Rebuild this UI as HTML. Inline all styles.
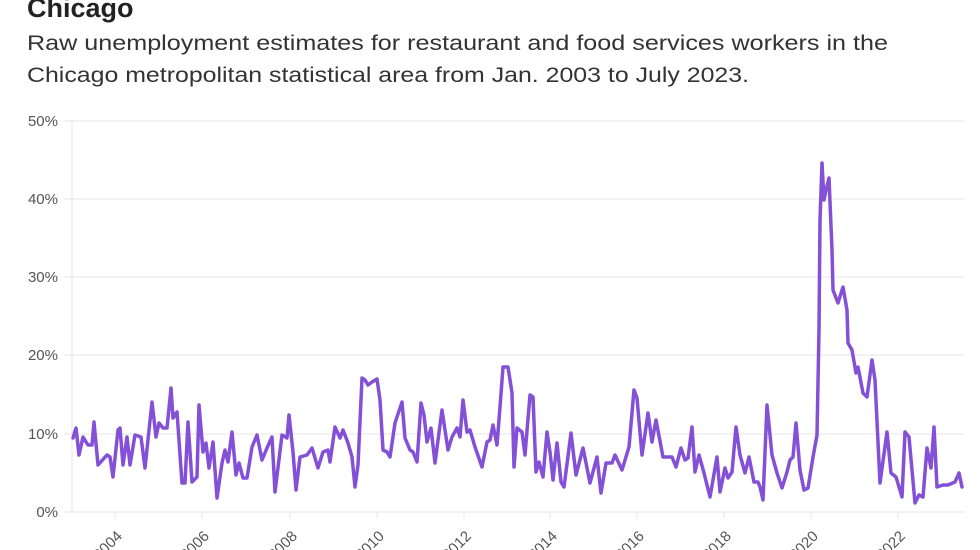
<!DOCTYPE html>
<html><head><meta charset="utf-8"><style>
html,body{margin:0;padding:0;background:#fff;}
svg{display:block;font-family:"Liberation Sans",sans-serif;}
</style></head><body>
<svg width="980" height="550" viewBox="0 0 980 550">
<text x="27" y="17" font-size="27" font-weight="bold" fill="#222">Chicago</text>
<text x="27" y="50" font-size="21" fill="#333" textLength="861" lengthAdjust="spacingAndGlyphs">Raw unemployment estimates for restaurant and food services workers in the</text>
<text x="27" y="82" font-size="21" fill="#333" textLength="722" lengthAdjust="spacingAndGlyphs">Chicago metropolitan statistical area from Jan. 2003 to July 2023.</text>
<g stroke="#e6e6e6" stroke-width="1">
<line x1="64" x2="964" y1="121" y2="121"/><line x1="64" x2="964" y1="199" y2="199"/><line x1="64" x2="964" y1="277" y2="277"/><line x1="64" x2="964" y1="355" y2="355"/><line x1="64" x2="964" y1="434" y2="434"/><line x1="64" x2="964" y1="512" y2="512"/>
<line x1="72" x2="72" y1="121" y2="512"/>
<line x1="115" x2="115" y1="512" y2="518"/><line x1="202" x2="202" y1="512" y2="518"/><line x1="290" x2="290" y1="512" y2="518"/><line x1="377" x2="377" y1="512" y2="518"/><line x1="464" x2="464" y1="512" y2="518"/><line x1="550" x2="550" y1="512" y2="518"/><line x1="637" x2="637" y1="512" y2="518"/><line x1="724" x2="724" y1="512" y2="518"/><line x1="811" x2="811" y1="512" y2="518"/><line x1="898" x2="898" y1="512" y2="518"/>
</g>
<g font-size="15" fill="#555" text-anchor="end">
<text x="58" y="126">50%</text><text x="58" y="204">40%</text><text x="58" y="282">30%</text><text x="58" y="360">20%</text><text x="58" y="439">10%</text><text x="58" y="517">0%</text>
</g>
<g font-size="15" fill="#555" text-anchor="end">
<text transform="translate(123,537) rotate(-45)">2004</text>
<text transform="translate(210,537) rotate(-45)">2006</text>
<text transform="translate(298,537) rotate(-45)">2008</text>
<text transform="translate(385,537) rotate(-45)">2010</text>
<text transform="translate(472,537) rotate(-45)">2012</text>
<text transform="translate(558,537) rotate(-45)">2014</text>
<text transform="translate(645,537) rotate(-45)">2016</text>
<text transform="translate(732,537) rotate(-45)">2018</text>
<text transform="translate(819,537) rotate(-45)">2020</text>
<text transform="translate(906,537) rotate(-45)">2022</text>
</g>
<polyline fill="none" stroke="#8450d8" stroke-width="3.5" stroke-linejoin="round" stroke-linecap="round" points="73,438 76,428 79,455 83,437 88,445 92,445 94,422 98,465 107,455 110,457 113,477 118,430 120,428 123,465 127,437 130,465 135,435 141,437 145,468 152,402 156,437 159,423 163,428 167,428 171,388 173,418 177,412 182,483 185,483 188,422 192,482 197,477 199,405 203,452 206,443 209,468 213,442 217,498 222,463 225,450 228,462 232,432 236,475 239,463 243,478 247,478 252,447 257,435 262,460 267,448 272,437 275,492 282,435 287,438 289,415 293,452 296,490 300,457 307,455 312,448 318,468 323,452 328,450 330,462 335,427 340,438 343,430 348,443 352,457 355,487 358,465 362,378 365,380 368,385 372,382 377,379 380,400 383,450 387,452 390,457 395,423 402,402 405,438 410,450 413,452 417,462 421,403 424,415 427,442 431,428 435,463 442,410 448,450 452,437 457,428 460,437 463,400 467,432 470,430 475,447 482,467 487,442 490,440 493,425 497,445 500,407 503,367 508,367 512,393 514,467 517,428 522,432 525,455 530,395 533,397 536,472 539,462 543,477 547,432 550,452 553,480 557,443 561,482 564,487 571,433 576,475 583,448 590,483 597,457 601,493 606,463 612,463 615,455 622,470 629,447 634,390 637,398 642,455 648,413 652,442 656,420 663,457 672,457 676,467 681,448 685,460 688,458 692,427 695,472 699,455 704,473 710,497 717,457 720,492 725,468 728,478 732,472 736,427 740,455 745,473 749,457 754,482 758,482 760,487 763,500 767,405 772,455 777,473 782,488 787,472 790,460 793,457 796,423 800,470 804,490 808,488 813,457 817,435 819,330 820,220 822,163 824,200 826,190 829,178 832,250 833,290 838,303 843,287 847,310 848,343 852,350 856,373 858,367 863,393 867,397 872,360 875,380 880,483 887,432 891,473 896,477 902,497 905,432 909,437 915,503 919,495 923,497 927,448 931,468 934,427 937,487 943,485 948,485 955,482 959,473 962,487"/>
</svg>
</body></html>
